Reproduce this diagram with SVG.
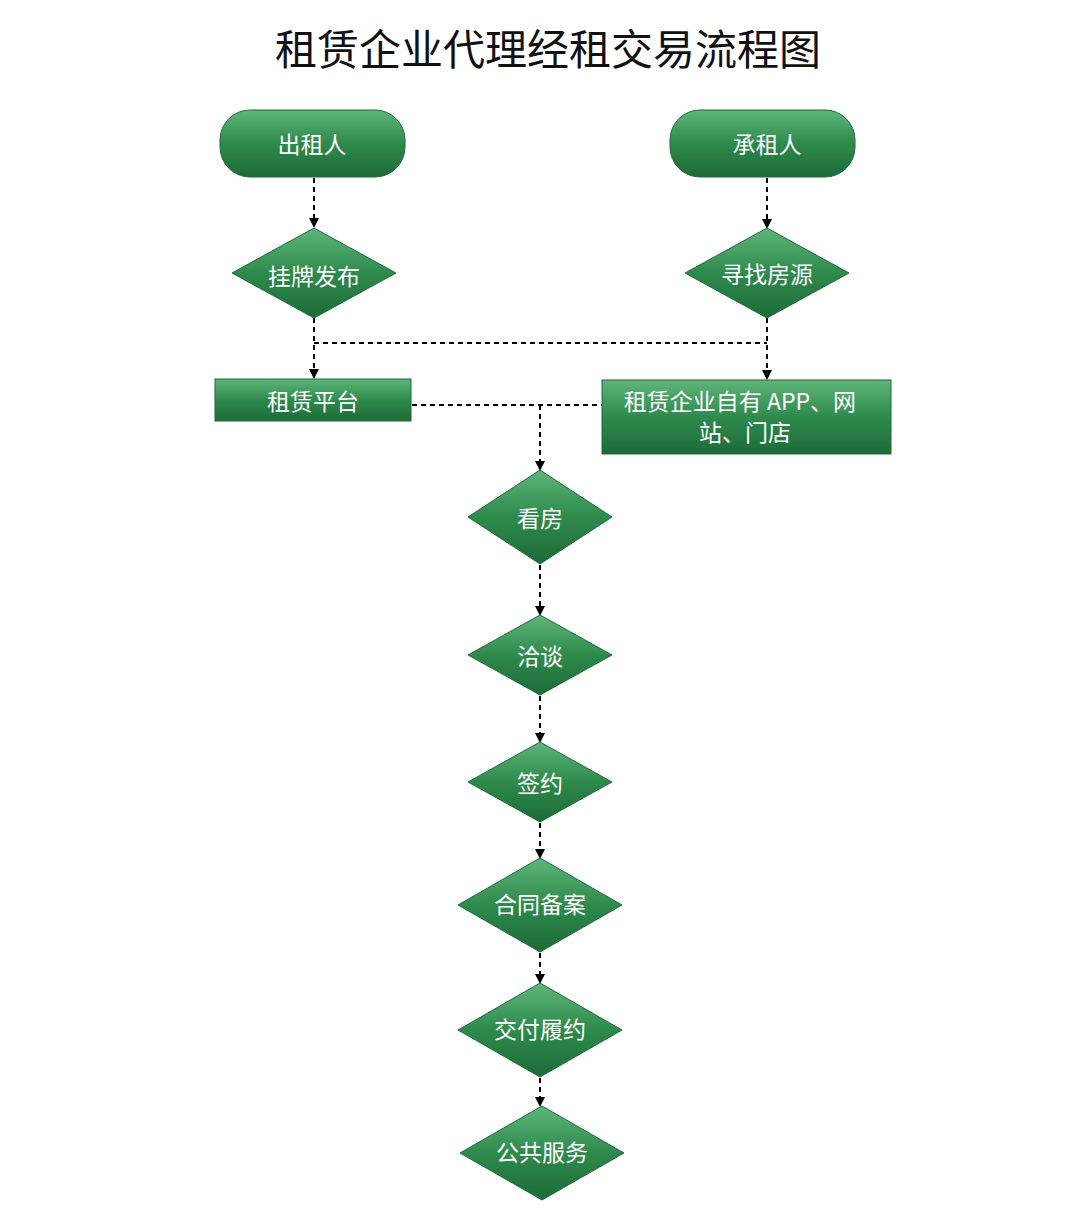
<svg xmlns="http://www.w3.org/2000/svg" width="1080" height="1216" viewBox="0 0 1080 1216">
<defs>
<linearGradient id="g" x1="0" y1="0" x2="0" y2="1"><stop offset="0" stop-color="#5fb57a"/><stop offset="0.5" stop-color="#2e8a4c"/><stop offset="1" stop-color="#1d6b38"/></linearGradient>
<marker id="a" markerWidth="10" markerHeight="10" refX="8" refY="5" orient="auto" markerUnits="userSpaceOnUse"><path d="M0,0 L10,5 L0,10 z" fill="#000"/></marker>
</defs>
<style>
.n{fill:url(#g);stroke:#1d6b38;stroke-width:1}
.t{fill:#fff;font-family:"Noto Sans CJK SC",sans-serif;font-size:23px;text-anchor:middle;dominant-baseline:central}
.c{stroke:#000;stroke-width:2;stroke-dasharray:5,4;fill:none}
</style>
<rect width="1080" height="1216" fill="#fff"/>
<text x="548" y="46" font-family="Noto Sans CJK SC,sans-serif" font-size="42" text-anchor="middle" dominant-baseline="central" fill="#111">租赁企业代理经租交易流程图</text>
<g id="connectors">
<path class="c" d="M314,178V226" marker-end="url(#a)"/>
<path class="c" d="M767,178V227" marker-end="url(#a)"/>
<path class="c" d="M314,318V377" marker-end="url(#a)"/>
<path class="c" d="M767,318V378" marker-end="url(#a)"/>
<path class="c" d="M314,343H767"/>
<path class="c" d="M412,405H602"/>
<path class="c" d="M540,405V469" marker-end="url(#a)"/>
<path class="c" d="M540,565V614" marker-end="url(#a)"/>
<path class="c" d="M540,696V741" marker-end="url(#a)"/>
<path class="c" d="M540,823V857" marker-end="url(#a)"/>
<path class="c" d="M540,953V982" marker-end="url(#a)"/>
<path class="c" d="M540,1078V1105" marker-end="url(#a)"/>
</g>
<g id="n1"><rect class="n" x="220" y="110" width="185" height="67" rx="30"/><text class="t" x="312" y="143">出租人</text></g>
<g id="n2"><rect class="n" x="670" y="110" width="185" height="67" rx="30"/><text class="t" x="767" y="143">承租人</text></g>
<g id="n3"><path class="n" d="M314,228L396,273L314,318L232,273Z"/><text class="t" x="314" y="275">挂牌发布</text></g>
<g id="n4"><path class="n" d="M767,228L849,273L767,318L685,273Z"/><text class="t" x="767" y="273">寻找房源</text></g>
<g id="n5"><rect class="n" x="215" y="379" width="196" height="42"/><text class="t" x="313" y="400">租赁平台</text></g>
<g id="n6"><rect class="n" x="602" y="380" width="289" height="74"/><text class="t" x="740" y="400">租赁企业自有 APP、网</text><text class="t" x="745" y="431">站、门店</text></g>
<g id="n7"><path class="n" d="M540,470L612,517L540,564L468,517Z"/><text class="t" x="540" y="517">看房</text></g>
<g id="n8"><path class="n" d="M540,615L612,655L540,695L468,655Z"/><text class="t" x="540" y="655">洽谈</text></g>
<g id="n9"><path class="n" d="M540,742L612,782L540,822L468,782Z"/><text class="t" x="540" y="782">签约</text></g>
<g id="n10"><path class="n" d="M540,858L622,905L540,952L458,905Z"/><text class="t" x="540" y="903">合同备案</text></g>
<g id="n11"><path class="n" d="M540,983L622,1030L540,1077L458,1030Z"/><text class="t" x="540" y="1028">交付履约</text></g>
<g id="n12"><path class="n" d="M542,1106L624,1153L542,1200L460,1153Z"/><text class="t" x="542" y="1151">公共服务</text></g>
</svg>
